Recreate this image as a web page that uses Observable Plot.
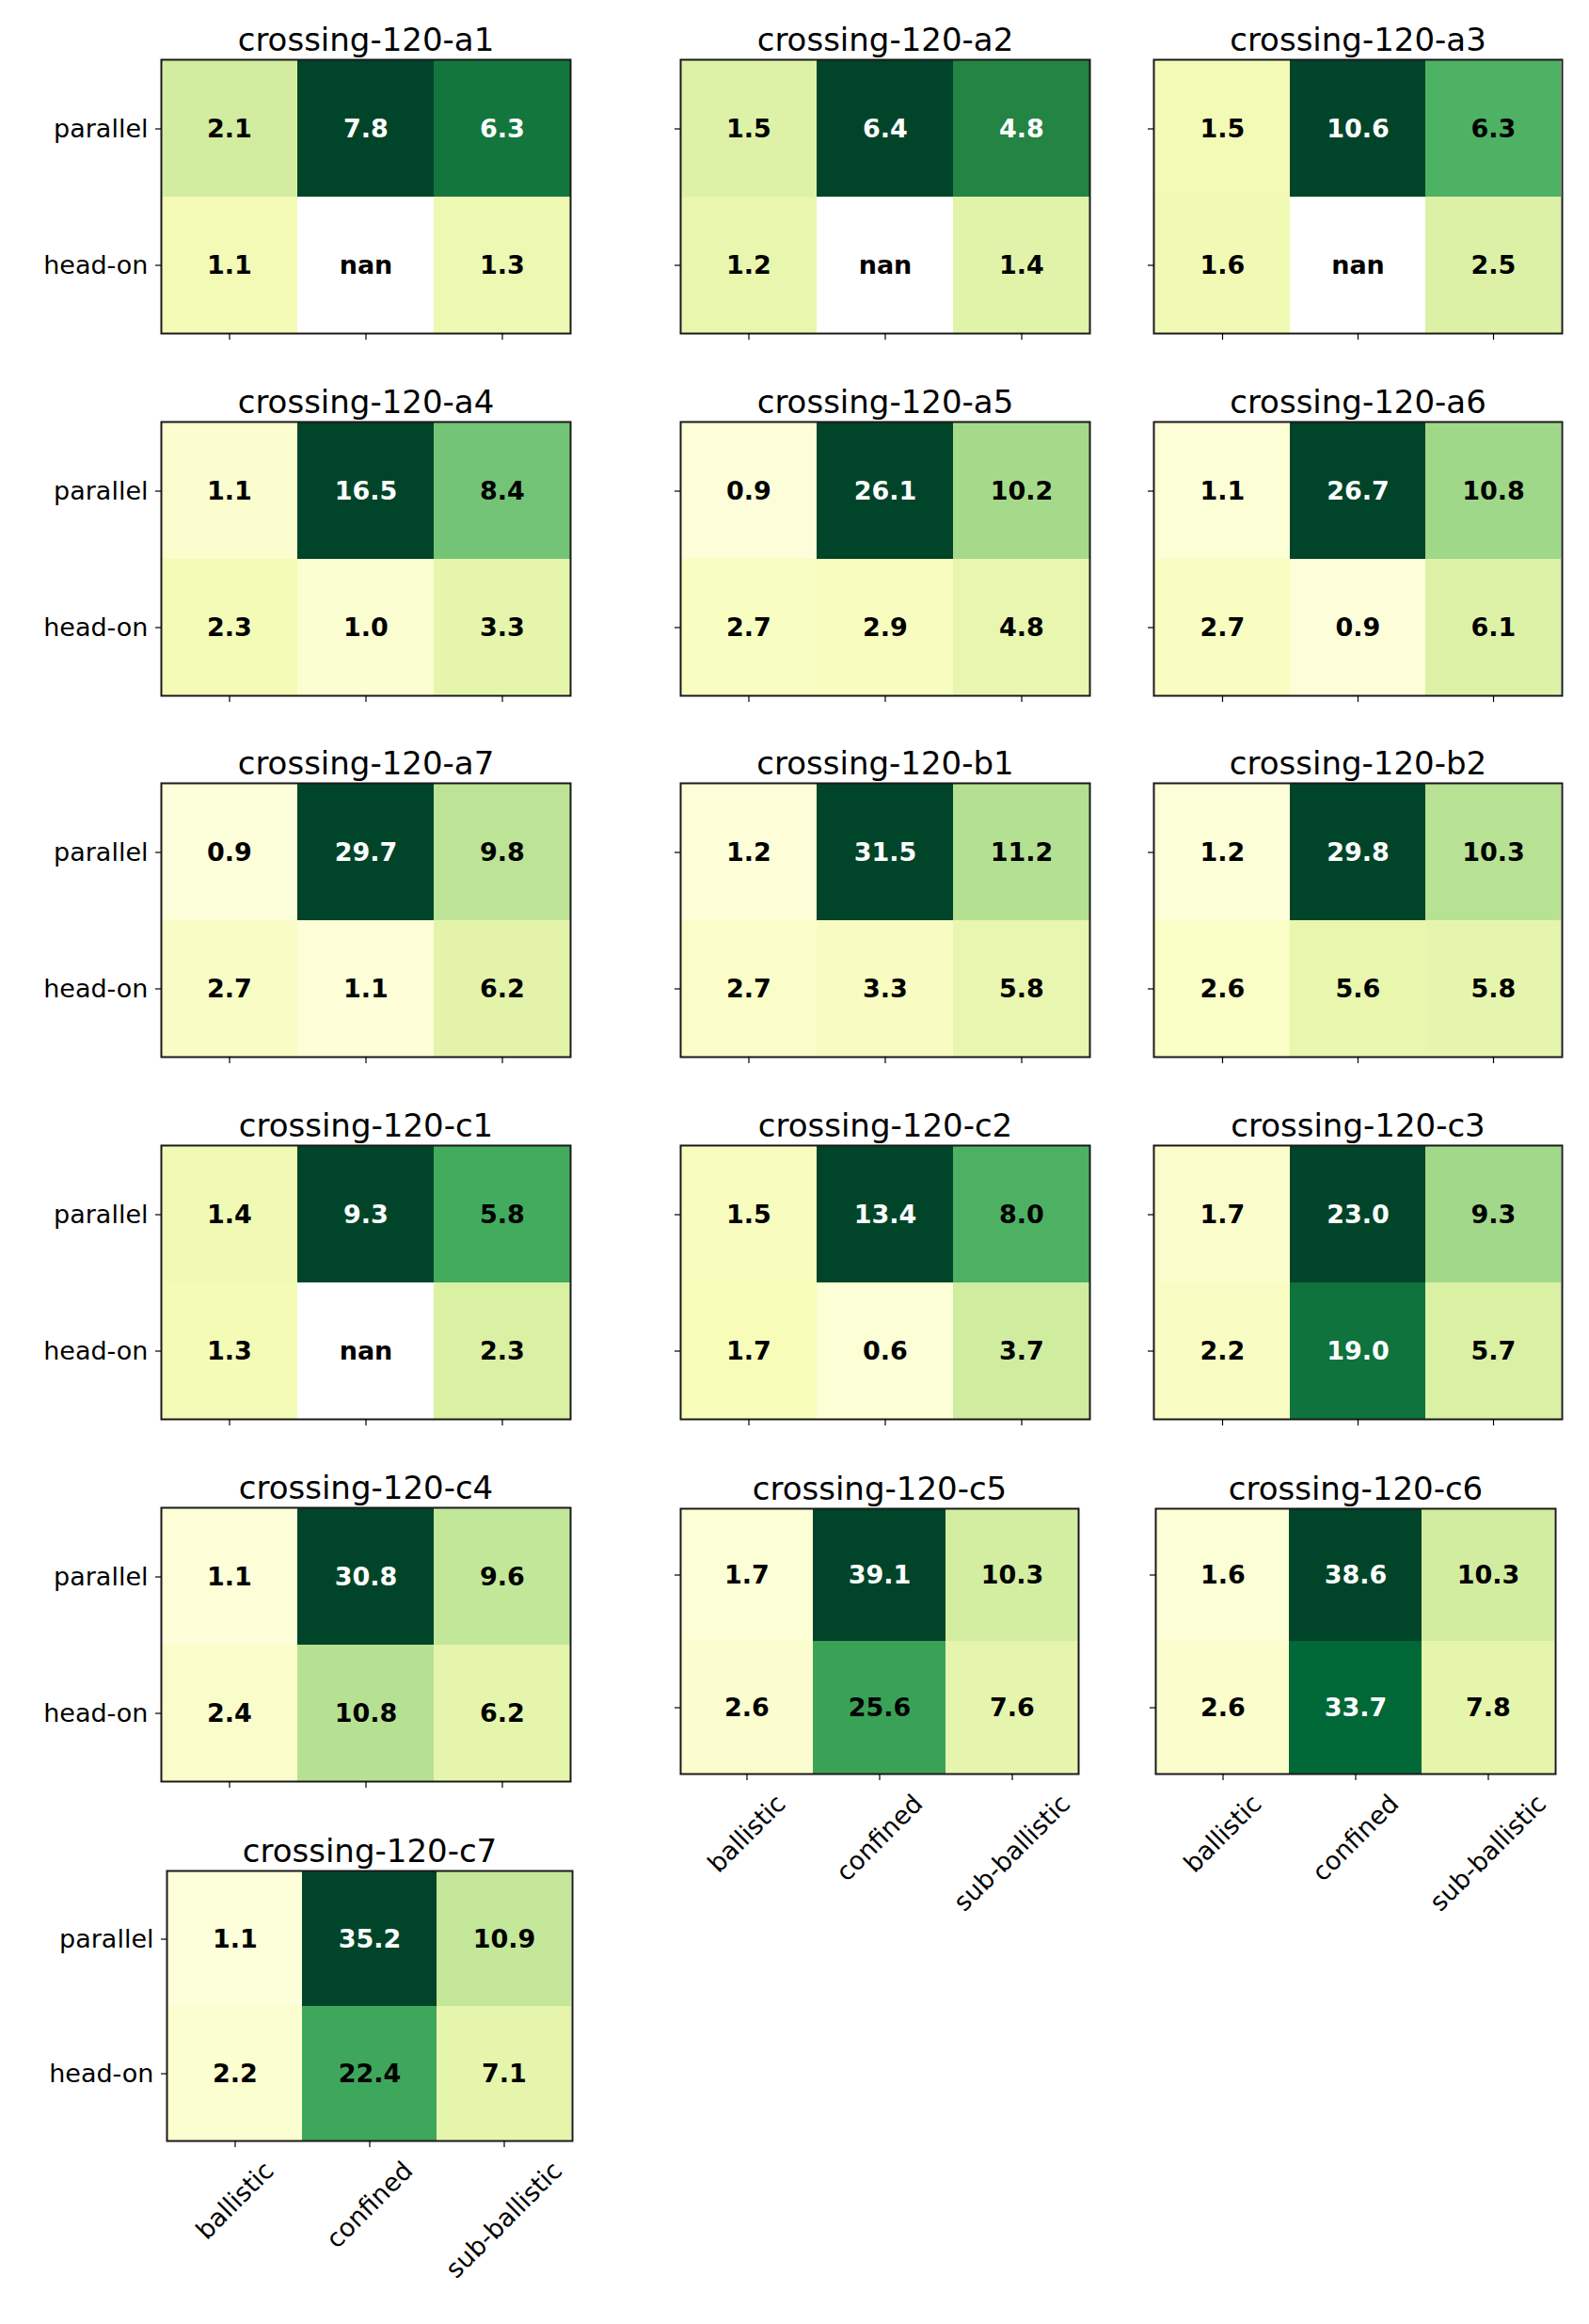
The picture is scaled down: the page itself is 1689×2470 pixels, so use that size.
<!DOCTYPE html>
<html><head><meta charset="utf-8">
<script src="https://cdn.jsdelivr.net/npm/d3@7"></script>
<script src="https://cdn.jsdelivr.net/npm/@observablehq/plot@0.6"></script>
<style>
html,body{margin:0;padding:0;background:#fff;}
#fig{position:relative;width:1689px;height:2470px;background:#fff;font-family:"DejaVu Sans";}
#fig > svg{position:absolute;}
</style></head><body><div id="fig"></div>
<script>
// ---------------- data ----------------
const panelNames = [
  "crossing-120-a1","crossing-120-a2","crossing-120-a3",
  "crossing-120-a4","crossing-120-a5","crossing-120-a6",
  "crossing-120-a7","crossing-120-b1","crossing-120-b2",
  "crossing-120-c1","crossing-120-c2","crossing-120-c3",
  "crossing-120-c4","crossing-120-c5","crossing-120-c6",
  "crossing-120-c7"
];
const rowLabels = ["parallel", "head-on"];
const colLabels = ["ballistic", "confined", "sub-ballistic"];
// values per panel: [ballistic, confined, sub-ballistic]; null = nan
const parallelValues = [
  [2.1, 7.8, 6.3], [1.5, 6.4, 4.8], [1.5, 10.6, 6.3],
  [1.1, 16.5, 8.4], [0.9, 26.1, 10.2], [1.1, 26.7, 10.8],
  [0.9, 29.7, 9.8], [1.2, 31.5, 11.2], [1.2, 29.8, 10.3],
  [1.4, 9.3, 5.8], [1.5, 13.4, 8.0], [1.7, 23.0, 9.3],
  [1.1, 30.8, 9.6], [1.7, 39.1, 10.3], [1.6, 38.6, 10.3],
  [1.1, 35.2, 10.9]
];
const headOnValues = [
  [1.1, null, 1.3], [1.2, null, 1.4], [1.6, null, 2.5],
  [2.3, 1.0, 3.3], [2.7, 2.9, 4.8], [2.7, 0.9, 6.1],
  [2.7, 1.1, 6.2], [2.7, 3.3, 5.8], [2.6, 5.6, 5.8],
  [1.3, null, 2.3], [1.7, 0.6, 3.7], [2.2, 19.0, 5.7],
  [2.4, 10.8, 6.2], [2.6, 25.6, 7.6], [2.6, 33.7, 7.8],
  [2.2, 22.4, 7.1]
];

// ---------------- styles / layout ----------------
const ylgn = ["#ffffe5","#f7fcb9","#d9f0a3","#addd8e","#78c679","#41ab5d","#238443","#006837","#004529"];
// panel frame boxes: [left, top, width, height]
const boxes = [
  [171, 63, 435, 291], [723, 63, 435, 291], [1226, 63, 434, 291],
  [171, 448, 435, 291], [723, 448, 435, 291], [1226, 448, 434, 291],
  [171, 832, 435, 291], [723, 832, 435, 291], [1226, 832, 434, 291],
  [171, 1217, 435, 291], [723, 1217, 435, 291], [1226, 1217, 434, 291],
  [171, 1602, 435, 291], [723, 1603, 423, 282], [1228, 1603, 425, 282],
  [177, 1988, 431, 287]
];
const showYLabels = [1,0,0, 1,0,0, 1,0,0, 1,0,0, 1,0,0, 1];
const showXLabels = [0,0,0, 0,0,0, 0,0,0, 0,0,0, 0,1,1, 1];

const FONT = "DejaVu Sans";
const TICK_FS = 27, TITLE_FS = 34, VAL_FS = 27;
const ML = 150, MR = 20, MT = 60, MB = 170;

const ctx = document.createElement("canvas").getContext("2d");
ctx.font = `${TICK_FS}px "${FONT}"`;
const textW = s => ctx.measureText(s).width;

const fig = document.getElementById("fig");
const fmt = v => v == null ? "nan" : v.toFixed(1);

panelNames.forEach((name, i) => {
  const [bx, by, bw, bh] = boxes[i];
  const data = [];
  rowLabels.forEach((r, ri) => colLabels.forEach((c, ci) => {
    data.push({row: r, col: c, value: (ri === 0 ? parallelValues : headOnValues)[i][ci]});
  }));
  const vmax = d3.max(data, d => d.value);
  const isLight = d => d.value != null && d.value / vmax > 0.7;

  const marks = [
    Plot.cell(data.filter(d => d.value != null), {x: "col", y: "row", fill: "value", inset: 0, shapeRendering: "crispEdges"}),
    Plot.text(data.filter(d => !isLight(d)), {x: "col", y: "row", text: d => fmt(d.value), fill: "black", fontWeight: "bold", fontSize: VAL_FS, lineAnchor: "middle"}),
    Plot.text(data.filter(isLight), {x: "col", y: "row", text: d => fmt(d.value), fill: "white", fontWeight: "bold", fontSize: VAL_FS, lineAnchor: "middle"}),
    Plot.frame({stroke: "#1a1a1a", strokeWidth: 2}),
    Plot.axisX({tickSize: 7, tickFormat: () => "", label: null, strokeWidth: 1.2}),
    Plot.axisY({tickSize: 6, tickPadding: 8, fontSize: TICK_FS, label: null, strokeWidth: 1.2,
      tickFormat: showYLabels[i] ? (d => d) : (() => "")}),
    Plot.text([name], {text: d => d, frameAnchor: "top", dy: -10, lineAnchor: "bottom", fontSize: TITLE_FS, fill: "black"})
  ];
  if (showXLabels[i]) {
    colLabels.forEach(c => {
      const half = (textW(c) + TICK_FS * 1.16) / (2 * Math.SQRT2);
      marks.push(Plot.text([c], {x: d => d, text: d => d, frameAnchor: "bottom", rotate: -45,
        textAnchor: "middle", lineAnchor: "middle", fontSize: TICK_FS, fill: "black", dy: 16 + half}));
    });
  }

  const svg = Plot.plot({
    width: bw + ML + MR,
    height: bh + MT + MB,
    marginLeft: ML, marginRight: MR, marginTop: MT, marginBottom: MB,
    style: {fontFamily: `"${FONT}"`, fontSize: `${TICK_FS}px`, color: "black", background: "transparent", overflow: "visible"},
    x: {type: "band", domain: colLabels, padding: 0, label: null},
    y: {type: "band", domain: rowLabels, padding: 0, label: null},
    color: {type: "linear", domain: d3.range(9).map(k => vmax * k / 8), range: ylgn, interpolate: "rgb"},
    marks
  });
  svg.style.left = (bx - ML) + "px";
  svg.style.top = (by - MT) + "px";
  fig.appendChild(svg);
});
</script>
</body></html>
